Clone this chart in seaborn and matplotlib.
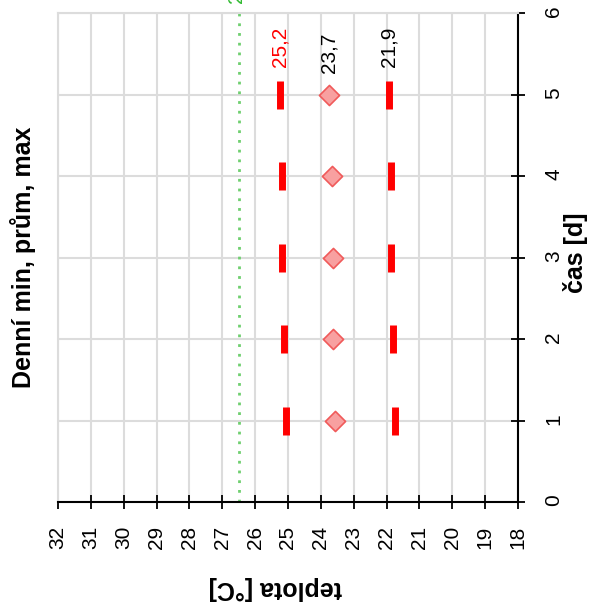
import numpy as np
import pandas as pd
import matplotlib
matplotlib.use("Agg")
import matplotlib.pyplot as plt
import seaborn as sns

# ---- data ----
days = [1, 2, 3, 4, 5]
t_max = [25.06, 25.13, 25.18, 25.18, 25.24]
t_mean = [23.58, 23.64, 23.64, 23.67, 23.74]
t_min = [21.75, 21.81, 21.87, 21.87, 21.93]
threshold = 26.5
temp_ticks = list(range(18, 33))
day_ticks = list(range(0, 7))
title = "Denní min, prům, max"
xlabel = "teplota [°C]"
ylabel = "čas [d]"
threshold_label = "26,5"

sns.set_theme(style="white")
plt.rcParams['font.family'] = ['Liberation Sans', 'DejaVu Sans']
plt.rcParams['text.color'] = 'black'

W, H = 597, 607
fig = plt.figure(figsize=(W / 100, H / 100), dpi=100)
ax = fig.add_axes([58 / W, 1 - 502 / H, (518 - 58) / W, (502 - 13) / H])

df = pd.DataFrame({"day": days, "max": t_max, "mean": t_mean, "min": t_min})

ax.axvline(threshold, color="#6fcf6f", ls=(0, (1, 2.5)), lw=2, zorder=2)
sns.scatterplot(data=df, x="max", y="day", marker="|", s=380, linewidth=5,
                color="#ff0000", ax=ax, zorder=3)
sns.scatterplot(data=df, x="min", y="day", marker="|", s=380, linewidth=5,
                color="#ff0000", ax=ax, zorder=3)
sns.scatterplot(data=df, x="mean", y="day", marker="D", s=105,
                facecolor="#f8a0a0", edgecolor="#f05a5a", linewidth=1.2,
                ax=ax, zorder=3)

ax.set_xlim(32, 18)
ax.set_ylim(0, 6)
ax.set_xticks(temp_ticks)
ax.set_yticks(day_ticks)
ax.yaxis.tick_right()
ax.set_xlabel("")
ax.set_ylabel("")
ax.grid(True, color="#dcdcdc", lw=1.5)
ax.set_axisbelow(True)
ax.tick_params(axis='both', direction='inout', length=10, width=1.3,
               colors='black', labelsize=15, labelrotation=90)
ax.tick_params(axis='y', right=True, left=False, pad=14)
ax.tick_params(axis='x', bottom=True, pad=12)
for s in ['right', 'bottom']:
    ax.spines[s].set_color('black')
    ax.spines[s].set_linewidth(1.5)
for s in ['left', 'top']:
    ax.spines[s].set_color('#dcdcdc')
    ax.spines[s].set_linewidth(1.5)

# value labels for the last day
fmt = lambda v: f"{v:.1f}".replace(".", ",")
ax.annotate(fmt(t_max[-1]), (t_max[-1], days[-1]), xytext=(0, 34),
            textcoords='offset points', rotation=90, ha='center', va='center',
            color='#ff0000', fontsize=15)
ax.annotate(fmt(t_mean[-1]), (t_mean[-1], days[-1]), xytext=(0, 30),
            textcoords='offset points', rotation=90, ha='center', va='center',
            color='black', fontsize=15)
ax.annotate(fmt(t_min[-1]), (t_min[-1], days[-1]), xytext=(0, 34),
            textcoords='offset points', rotation=90, ha='center', va='center',
            color='black', fontsize=15)

fig.text(236 / W, 1 - 3 / H, threshold_label, rotation=90, ha='center',
         va='bottom', color='#33bb33', fontsize=15)

fig.text(23 / W, 1 - 257 / H, title, rotation=90, ha='center', va='center',
         fontsize=18, fontweight='bold')
fig.text(576 / W, 1 - 253 / H, ylabel, rotation=90, ha='center', va='center',
         fontsize=18, fontweight='bold')
fig.text(275 / W, 1 - 588 / H, xlabel, rotation=180, ha='center', va='center',
         fontsize=18, fontweight='bold')

fig.savefig("out.png", dpi=100)
